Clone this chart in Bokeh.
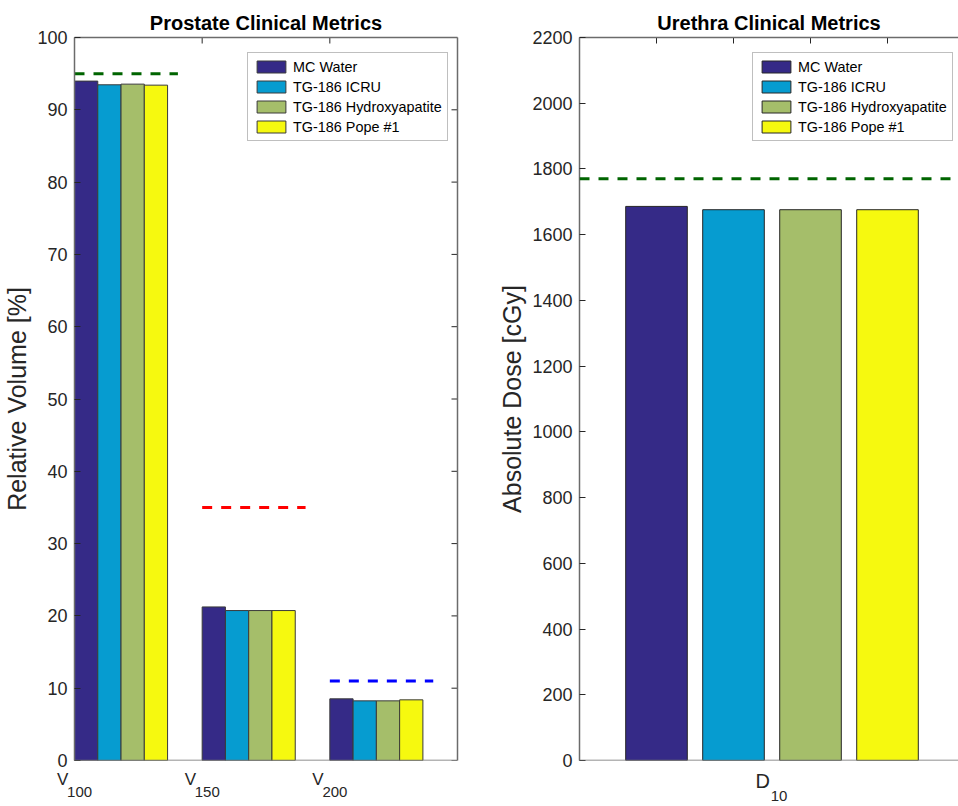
import math
from bokeh.plotting import figure
from bokeh.layouts import row
from bokeh.models import (ColumnDataSource, Legend, LegendItem, LinearAxis, FixedTicker,
                          Range1d, Span)
from bokeh.embed import file_html
from bokeh.resources import INLINE

# ---------------- data ----------------
prostate_labels = ["V", "V", "V"]
prostate_subscripts = ["100", "150", "200"]
series_names = ["MC Water", "TG-186 ICRU", "TG-186 Hydroxyapatite", "TG-186 Pope #1"]
series_colors = ["#352a87", "#069cd0", "#a5be6a", "#f6f90f"]

prostate_mc_water = [93.97, 21.24, 8.53]
prostate_tg186_icru = [93.46, 20.74, 8.25]
prostate_tg186_hydroxyapatite = [93.55, 20.74, 8.25]
prostate_tg186_pope1 = [93.41, 20.74, 8.39]
prostate_thresholds = [95, 35, 11]
threshold_colors = ["#006400", "#ff0000", "#0000ff"]

urethra_label = ["D"]
urethra_subscript = ["10"]
urethra_values = [1686, 1676, 1676, 1676]  # MC Water, ICRU, Hydroxyapatite, Pope #1
urethra_threshold = 1770

prostate_yticks = [0, 10, 20, 30, 40, 50, 60, 70, 80, 90, 100]
urethra_yticks = [0, 200, 400, 600, 800, 1000, 1200, 1400, 1600, 1800, 2000, 2200]
prostate_top_ticks = [1, 2]
urethra_top_ticks = [1, 2, 3, 4]

# ---------------- styles ----------------
FONT = "Liberation Sans"
TXT = "#262626"
AX = "#6b6b6b"
NBSP = "\u00a0"


def style_yaxis(ax):
    ax.axis_line_color = AX
    ax.axis_line_width = 1.5
    ax.major_tick_in = 6
    ax.major_tick_out = 0
    ax.minor_tick_line_color = None
    ax.major_tick_line_color = TXT
    ax.major_label_text_font = FONT
    ax.major_label_text_font_size = "18px"
    ax.major_label_text_color = TXT
    ax.major_label_standoff = 7
    ax.axis_label_text_font = FONT
    ax.axis_label_text_font_style = "normal"
    ax.axis_label_text_font_size = "25px"
    ax.axis_label_text_color = TXT
    ax.axis_label_standoff = 3


def line_axis(bounds):
    ax = LinearAxis(ticker=FixedTicker(ticks=[]), bounds=bounds)
    ax.axis_line_color = AX
    ax.axis_line_width = 1.5
    ax.major_tick_line_color = None
    ax.minor_tick_line_color = None
    ax.major_label_standoff = 0
    ax.axis_label_standoff = 0
    return ax


def label_axis(positions, texts, size, standoff):
    ticks = [float(x) for x in positions]
    ax = LinearAxis(ticker=FixedTicker(ticks=ticks),
                    major_label_overrides={t: s for t, s in zip(ticks, texts)})
    ax.axis_line_color = None
    ax.major_tick_line_color = None
    ax.minor_tick_line_color = None
    ax.major_tick_in = 0
    ax.major_tick_out = 0
    ax.major_label_text_font = FONT
    ax.major_label_text_font_size = size
    ax.major_label_text_color = TXT
    ax.major_label_standoff = standoff
    ax.axis_label_standoff = 0
    return ax


def make_legend(renderers, loc):
    items = [LegendItem(label=n, renderers=[r]) for n, r in zip(series_names, renderers)]
    lg = Legend(items=items, location=loc)
    lg.glyph_width = 36
    lg.glyph_height = 15
    lg.label_text_font = FONT
    lg.label_text_font_size = "14.4px"
    lg.label_text_color = "#000000"
    lg.label_standoff = 4
    lg.label_height = 17
    lg.padding = 5
    lg.spacing = 3
    lg.margin = 0
    lg.border_line_color = "#808080"
    lg.border_line_width = 1.5
    lg.background_fill_color = "white"
    lg.background_fill_alpha = 1
    return lg


def base_fig(xr, ymax, left, right, title):
    p = figure(width=479, height=806, x_range=xr, y_range=Range1d(0, ymax),
               output_backend="svg", toolbar_location=None, x_axis_location=None,
               min_border_left=left, min_border_right=right, min_border_top=37,
               min_border_bottom=46)
    p.outline_line_color = None
    p.grid.visible = False
    p.background_fill_color = "white"
    p.border_fill_color = "white"
    p.title.text = title
    p.title.align = "center"
    p.title.text_font = FONT
    p.title.text_font_size = "20px"
    p.title.text_font_style = "bold"
    p.title.text_color = "#000000"
    p.title.standoff = 7
    # x axis baseline at zero
    p.add_layout(Span(location=0, dimension="width", line_color=AX, line_width=1.5))
    return p


# ---------------- left: prostate ----------------
p1 = base_fig(Range1d(0, 3), 100, 72, 22, "Prostate Clinical Metrics")

group_w = 0.729
bar_w = group_w / 4
cats = list(range(len(prostate_labels)))
series = [prostate_mc_water, prostate_tg186_icru, prostate_tg186_hydroxyapatite, prostate_tg186_pope1]
rends1 = []
for j, (vals, col) in enumerate(zip(series, series_colors)):
    src = ColumnDataSource(dict(x=[c + bar_w * (j + 0.5) for c in cats], top=vals))
    r = p1.vbar(x="x", top="top", bottom=0, width=bar_w, source=src,
                fill_color=col, line_color="#3a3a3a", line_width=1)
    rends1.append(r)

thr_src = ColumnDataSource(dict(x0=cats, x1=[c + 0.81 for c in cats],
                                y=prostate_thresholds, color=threshold_colors))
p1.segment(x0="x0", x1="x1", y0="y", y1="y", line_color="color", source=thr_src,
           line_width=3, line_dash="10 9")

p1.yaxis.ticker = FixedTicker(ticks=prostate_yticks)
p1.yaxis.axis_label = "Relative Volume [%]"
style_yaxis(p1.yaxis[0])
p1.add_layout(line_axis((0, 100)), "right")
p1.add_layout(line_axis((0, 3)), "above")

# inward tick marks on the right and top edges
p1.ray(x=3, y=prostate_yticks, length=6, length_units="screen", angle=math.pi,
       line_color=TXT, line_width=1)
p1.ray(x=prostate_top_ticks, y=100, length=6, length_units="screen", angle=-math.pi / 2,
       line_color=TXT, line_width=1)

# category labels V_100, V_150, V_200: letter (padded so the whole label is centred
# on the category tick), then the subscript row just below it
p1.add_layout(label_axis(cats, [s + NBSP * 5 for s in prostate_labels], "17px", 9), "below")
p1.add_layout(label_axis([c + 0.04 for c in cats], prostate_subscripts, "15px", -5), "below")

p1.add_layout(make_legend(rends1, (173, 619)))

# ---------------- right: urethra ----------------
p2 = base_fig(Range1d(0, 4.922), 2200, 100, 0, "Urethra Clinical Metrics")

bar_pos = [1, 2, 3, 4]
rends2 = []
for j, col in enumerate(series_colors):
    src = ColumnDataSource(dict(x=[bar_pos[j]], top=[urethra_values[j]]))
    r = p2.vbar(x="x", top="top", bottom=0, width=0.8, source=src,
                fill_color=col, line_color="#262626", line_width=1)
    rends2.append(r)

p2.add_layout(Span(location=urethra_threshold, dimension="width", line_color=threshold_colors[0],
                   line_width=3, line_dash="10 9"))

p2.yaxis.ticker = FixedTicker(ticks=urethra_yticks)
p2.yaxis.axis_label = "Absolute Dose [cGy]"
style_yaxis(p2.yaxis[0])
p2.add_layout(line_axis((0, 5)), "above")

p2.ray(x=urethra_top_ticks, y=2200, length=6, length_units="screen", angle=-math.pi / 2,
       line_color=TXT, line_width=1)

group_center = sum(bar_pos) / len(bar_pos)
p2.add_layout(label_axis([group_center - 0.12], urethra_label, "20px", 9), "below")
p2.add_layout(label_axis([group_center + 0.092], urethra_subscript, "15px", -4), "below")

p2.add_layout(make_legend(rends2, (173, 619)))

layout = row(p1, p2)
open("out.html", "w").write(file_html(layout, INLINE))
